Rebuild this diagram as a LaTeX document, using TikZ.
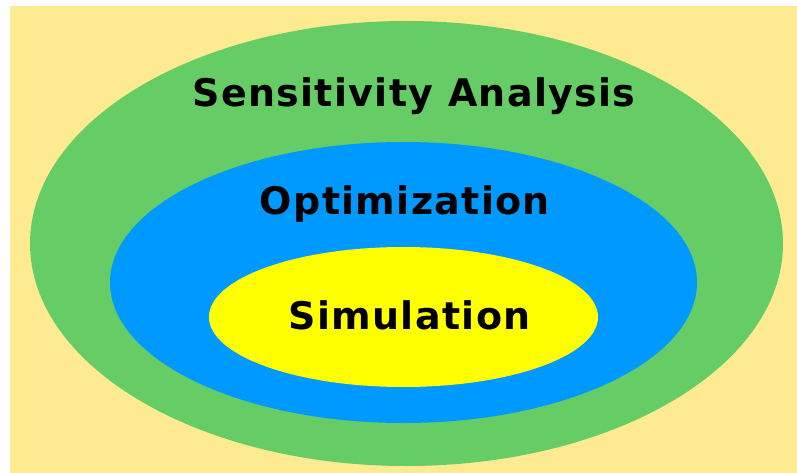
\documentclass[tikz,border=0pt]{standalone}
\usepackage{fontspec}
\setmainfont{DejaVu Sans}[LetterSpace=3.5]
\usepackage{tikz}
\usetikzlibrary{positioning}

\definecolor{bgsand}{HTML}{FEEA90}
\definecolor{sagreen}{HTML}{66CC66}
\definecolor{optblue}{HTML}{0099FF}
\definecolor{simyellow}{HTML}{FFFF00}

\begin{document}
\begin{tikzpicture}[
  x=1pt, y=-1pt,
  layer/.style={font=\fontsize{38}{42}\selectfont\bfseries, text=black, anchor=base, inner sep=0pt},
]
\useasboundingbox (0,0) rectangle (797,473);
\fill[bgsand] (10,6) rectangle (797,473);

% nested ellipses
\fill[sagreen]   (406.5,243.5) ellipse [x radius=376.5pt, y radius=222.5pt];
\fill[optblue]   (403.5,282.5) ellipse [x radius=293.5pt, y radius=140.5pt];
\fill[simyellow] (403.5,317)   ellipse [x radius=194.5pt, y radius=70pt];

\node[layer] (sens) at (414,107) {Sensitivity Analysis};
\node[layer] (opt)  at (405,214) {Optimization};
\node[layer] (sim)  at (409.5,329) {Simulation};
\end{tikzpicture}
\end{document}
